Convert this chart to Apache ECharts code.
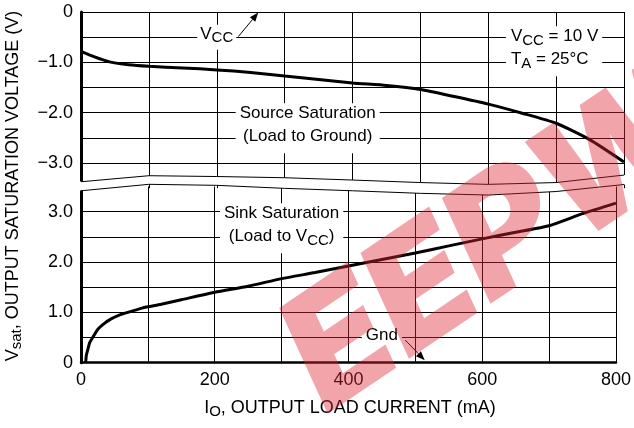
<!DOCTYPE html>
<html><head><meta charset="utf-8">
<script src="https://cdn.jsdelivr.net/npm/echarts@6/dist/echarts.min.js"></script>
<style>html,body{margin:0;padding:0;background:#fff}#c{width:634px;height:428px}</style>
</head><body><div id="c"></div>
<script>
// ---- data ----
const sourceCurrent = [0, 20, 42, 70, 100, 150, 200, 250, 300, 350, 400, 450, 500, 550, 600, 650, 700, 750, 800];
const sourceVsat    = [-0.78, -0.89, -0.99, -1.05, -1.08, -1.11, -1.15, -1.2, -1.27, -1.34, -1.41, -1.46, -1.54, -1.68, -1.83, -2.01, -2.21, -2.54, -2.98];
const sinkCurrent = [7, 8, 10, 13, 18, 25, 35, 45, 60, 75, 90, 100, 120, 150, 200, 250, 300, 350, 400, 450, 500, 550, 600, 650, 700, 750, 800];
const sinkVsat    = [0, 0.15, 0.25, 0.4, 0.51, 0.66, 0.78, 0.87, 0.96, 1.02, 1.08, 1.11, 1.16, 1.25, 1.40, 1.52, 1.67, 1.79, 1.92, 2.05, 2.18, 2.32, 2.46, 2.59, 2.72, 2.96, 3.17];
// axis-break outline (in upper-panel volts)
const breakCurrent = [0, 100, 200, 300, 400, 500, 600, 700, 800];
const breakUpper   = [-3.372, -3.252, -3.268, -3.292, -3.338, -3.388, -3.424, -3.388, -3.239];
const breakLower   = [-3.551, -3.423, -3.443, -3.503, -3.551, -3.602, -3.636, -3.566, -3.427];
const xTickLabels = ['0', '200', '400', '600', '800'];
const topTickLabels = ['0', '\u22121.0', '\u22122.0', '\u22123.0'];
const bottomTickLabels = ['0', '1.0', '2.0', '3.0'];

const FONT = '"Liberation Sans", Arial, Helvetica, sans-serif';
const chart = echarts.init(document.getElementById('c'), null, {renderer: 'canvas'});
const zip = (a, b) => a.map((v, i) => [v, b[i]]);
const gridLine = {show: true, lineStyle: {color: '#000', width: 1}};

const option = {
  animation: false,
  backgroundColor: '#fff',
  grid: [
    {left: 81, right: 10, top: 12, height: 176.2},
    {left: 81, right: 10, top: 186.5, height: 176.2}
  ],
  xAxis: [
    {gridIndex: 0, type: 'value', min: 0, max: 800, interval: 100,
     axisLine: {show: false}, axisTick: {show: false}, axisLabel: {show: false}, splitLine: gridLine},
    {gridIndex: 1, type: 'value', min: 0, max: 800, interval: 100,
     axisLine: {show: true, onZero: false, lineStyle: {color: '#000', width: 2.5}},
     axisTick: {show: false},
     axisLabel: {fontFamily: FONT, fontSize: 18, color: '#000', margin: 8,
       formatter: v => { const i = xTickLabels.indexOf(String(v)); return i >= 0 ? xTickLabels[i] : ''; }},
     splitLine: gridLine}
  ],
  yAxis: [
    {gridIndex: 0, type: 'value', min: -3.5, max: 0, interval: 0.5,
     axisLine: {show: true, onZero: false, lineStyle: {color: '#000', width: 3}},
     axisTick: {show: false},
     axisLabel: {fontFamily: FONT, fontSize: 18, color: '#000', margin: 8,
       formatter: v => { const k = Math.round(-v * 2); return (k % 2 === 0 && k / 2 < topTickLabels.length) ? topTickLabels[k / 2] : ''; }},
     splitLine: Object.assign({showMinLine: false}, gridLine)},
    {gridIndex: 1, type: 'value', min: 0, max: 3.5, interval: 0.5,
     axisLine: {show: true, onZero: false, lineStyle: {color: '#000', width: 3}},
     axisTick: {show: false},
     axisLabel: {fontFamily: FONT, fontSize: 18, color: '#000', margin: 8,
       formatter: v => { const k = Math.round(v * 2); return (k % 2 === 0 && k / 2 < bottomTickLabels.length) ? bottomTickLabels[k / 2] : ''; }},
     splitLine: Object.assign({showMaxLine: false}, gridLine)}
  ],
  series: [
    {type: 'line', xAxisIndex: 0, yAxisIndex: 0, data: zip(sourceCurrent, sourceVsat), smooth: 0.2,
     showSymbol: false, lineStyle: {color: '#000', width: 3}, z: 3, silent: true},
    {type: 'line', xAxisIndex: 1, yAxisIndex: 1, data: zip(sinkCurrent, sinkVsat), smooth: 0.2,
     showSymbol: false, lineStyle: {color: '#000', width: 3}, z: 3, silent: true},
    {type: 'custom', xAxisIndex: 0, yAxisIndex: 0, data: [0], z: 5, silent: true, clip: false,
     renderItem: (params, api) => {
       const up = breakCurrent.map((c, i) => api.coord([c, breakUpper[i]]));
       const lo = breakCurrent.map((c, i) => api.coord([c, breakLower[i]])).reverse();
       up[0][0] -= 3; lo[lo.length - 1][0] -= 3; up[up.length - 1][0] += 1; lo[0][0] += 1;
       return {type: 'polygon', shape: {points: up.concat(lo)}, style: {fill: '#fff'}};
     }},
    {type: 'line', xAxisIndex: 0, yAxisIndex: 0, data: zip(breakCurrent, breakUpper), clip: false,
     showSymbol: false, lineStyle: {color: '#000', width: 1}, z: 6, silent: true},
    {type: 'line', xAxisIndex: 0, yAxisIndex: 0, data: zip(breakCurrent, breakLower), clip: false,
     showSymbol: false, lineStyle: {color: '#000', width: 1}, z: 6, silent: true}
  ]
};
chart.setOption(option);

// ---- annotations (anchored in data coordinates) ----
const P = (g, x, y) => chart.convertToPixel({gridIndex: g}, [x, y]);
const rich = {
  m: {fontFamily: FONT, fontSize: 17, lineHeight: 23, fill: '#000', verticalAlign: 'top'},
  s: {fontFamily: FONT, fontSize: 15, lineHeight: 23, fill: '#000', verticalAlign: 'top', padding: [5, 0, 0, 0]}
};
function box(g, x, y, text, align, pad) {
  const p = P(g, x, y);
  return {type: 'text', x: p[0], y: p[1], z: 50,
    style: {text: text, rich: rich, align: align || 'center', verticalAlign: 'middle',
      backgroundColor: '#fff', padding: pad || [2, 4, 2, 4]}};
}
function arrow(g, a, b) {
  const p0 = P(g, a[0], a[1]), p1 = P(g, b[0], b[1]);
  const dx = p1[0] - p0[0], dy = p1[1] - p0[1], L = Math.hypot(dx, dy);
  const ux = dx / L, uy = dy / L, hl = 9, hw = 3.5;
  const bx = p1[0] - ux * hl, by = p1[1] - uy * hl;
  return [
    {type: 'line', z: 50, shape: {x1: p0[0], y1: p0[1], x2: bx, y2: by}, style: {stroke: '#000', lineWidth: 1}},
    {type: 'polygon', z: 50, shape: {points: [[p1[0], p1[1]], [bx - uy * hw, by + ux * hw], [bx + uy * hw, by - ux * hw]]}, style: {fill: '#000'}}
  ];
}
const graphics = [
  box(0, 200, -0.5, '{m|V}{s|CC}', 'center', [1, 3, 1, 3]),
  box(0, 626, -0.78, '{m|V}{s|CC}{m| = 10 V}\n{m|T}{s|A}{m| = 25°C}', 'left', [2, 4, 2, 5]),
  box(0, 334, -2.31, '{m|Source Saturation}\n{m|(Load to Ground)}', 'center'),
  box(1, 300, 2.67, '{m|Sink Saturation}\n{m|(Load to V}{s|CC}{m|)}', 'center'),
  box(1, 450, 0.485, '{m|Gnd}', 'center', [1, 4, 1, 4]),
  ...arrow(0, [231.7, -0.49], [261.2, -0.01]),
  ...arrow(1, [484.7, 0.45], [514, 0.05]),
  // axis titles
  {type: 'text', x: 15, y: 186, rotation: Math.PI / 2, z: 50,
   style: {text: '{t|V}{u|sat}{t|, OUTPUT SATURATION VOLTAGE (V)}', align: 'center', verticalAlign: 'middle',
     rich: {t: {fontFamily: FONT, fontSize: 18, lineHeight: 22, fill: '#000', verticalAlign: 'top'},
            u: {fontFamily: FONT, fontSize: 15, lineHeight: 22, fill: '#000', verticalAlign: 'top', padding: [5, 0, 0, 0]}}}},
  {type: 'text', x: 350, y: 410, z: 50,
   style: {text: '{t|I}{u|O}{t|, OUTPUT LOAD CURRENT (mA)}', align: 'center', verticalAlign: 'middle',
     rich: {t: {fontFamily: FONT, fontSize: 18, lineHeight: 22, fill: '#000', verticalAlign: 'top'},
            u: {fontFamily: FONT, fontSize: 15, lineHeight: 22, fill: '#000', verticalAlign: 'top', padding: [5, 0, 0, 0]}}}},
  // watermark
  {type: 'text', x: 345, y: 440, rotation: 34 * Math.PI / 180, z: 100, silent: true,
   style: {text: 'EEPW', fontFamily: 'Inter, "DejaVu Sans", sans-serif', fontSize: 158, fontWeight: 900, fontStyle: 'italic',
     fill: 'rgba(222,40,52,0.42)', align: 'left', verticalAlign: 'bottom'}}
];
chart.setOption({graphic: graphics});
</script>
</body></html>
